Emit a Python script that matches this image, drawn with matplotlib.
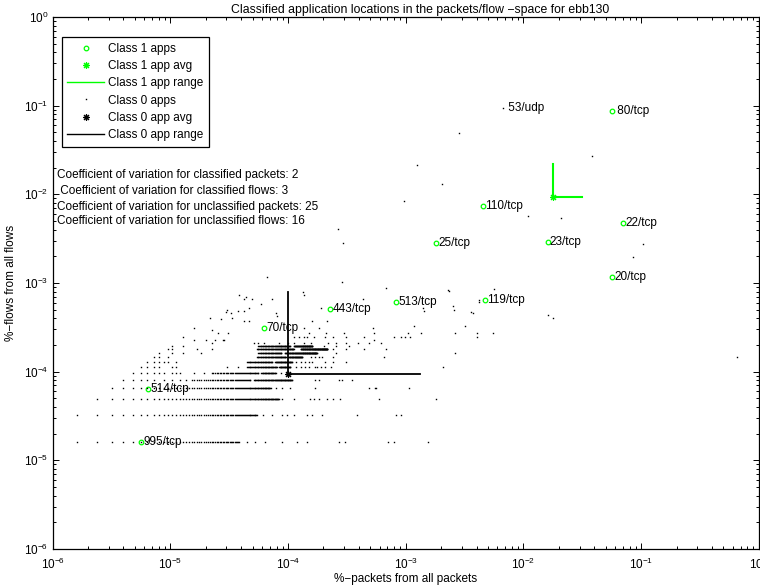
import numpy as np
import matplotlib
matplotlib.use('Agg')
import matplotlib.pyplot as plt
from matplotlib.lines import Line2D
from matplotlib.ticker import LogLocator, LogFormatterSciNotation, NullFormatter

plt.rcParams['font.family'] = ['Liberation Sans', 'DejaVu Sans']
plt.rcParams['mathtext.fontset'] = 'custom'
plt.rcParams['mathtext.rm'] = 'Liberation Sans'
plt.rcParams['mathtext.it'] = 'Liberation Sans:italic'
plt.rcParams['mathtext.bf'] = 'Liberation Sans:bold'
plt.rcParams['mathtext.default'] = 'regular'

GREEN = '#00ff00'
FS = 8.5

# ---- class 1 (classified) applications: % of packets / % of flows ----
c1_names = [' 80/tcp', '110/tcp', '22/tcp', '25/tcp', '23/tcp', '20/tcp',
            '119/tcp', '513/tcp', '443/tcp', '70/tcp', '514/tcp', '995/tcp']
c1_pkts = [0.0566, 0.00454, 0.0706, 0.00182, 0.0161, 0.0569,
           0.00474, 0.000828, 0.000228, 6.25e-5, 6.5e-6, 5.64e-6]
c1_flows = [0.0878, 0.00745, 0.00471, 0.00285, 0.00292, 0.00118,
            0.000643, 0.000615, 0.000506, 0.000308, 6.38e-5, 1.62e-5]
c1_avg = (0.0177, 0.0094)
c1_range_end = (0.0313, 0.022)       # (packets, flows)

# ---- class 0 (unclassified) applications ----
c0_avg = (1.007e-4, 9.42e-5)
c0_range_end = (1.325e-3, 7.98e-4)

PKT_UNIT = 8.0e-7     # % of all packets for a single packet
FLOW_UNIT = 1.62e-5   # % of all flows for a single flow

# apps with few flows sit on rows (flow count); runs are contiguous packet counts
row_flows = [1, 2, 3, 4, 5, 6, 7, 8, 9, 10, 11, 12, 13, 14, 15]
row_runs = [
    [(2, 48)],
    [(2, 68)],
    [(3, 104)],
    [(4, 89)],
    [(19, 60), (64, 135)],
    [(28, 70), (74, 98)],
    [(56, 100), (105, 131)],
    [(56, 92), (97, 135)],
    [(68, 120), (126, 165)],
    [(70, 110), (118, 220)],
    [(68, 140), (160, 270)],
    [(70, 130), (140, 201)],
    [],
    [],
    [],
]
row_extra = [
    [56, 66, 80, 112, 150, 183, 340, 380, 880, 990, 1930],
    [77, 92, 112, 123, 140, 183, 201, 242, 480, 1030, 1130],
    [112, 140, 191, 206, 228, 270, 304, 348, 746, 2240],
    [98, 112, 131, 214, 610, 686, 706, 1330],
    [5, 6, 7, 8, 9, 11, 13, 15, 17, 214, 229, 336, 362, 436],
    [6, 7, 8, 9, 10, 11, 13, 14, 15, 20, 24, 110, 122],
    [7, 8, 9, 10, 13, 14, 38, 47, 145, 160, 175, 190, 214, 222, 240, 259, 288, 2590],
    [8, 9, 10, 11, 12, 14, 145, 160, 175, 190, 201, 259, 304, 388],
    [9, 10, 12, 195, 210, 228, 244, 304, 822],
    [10, 13, 16, 23, 319, 3250],
    [12, 13, 21, 28, 300, 390, 558, 850],
    [13, 16, 252, 319, 414],
    [28, 64, 70, 78, 104, 126, 140, 170, 195, 272, 319, 388, 487, 611, 770],
    [20, 25, 30, 35, 36, 666],
    [16, 140, 154, 170, 182, 208, 260, 304, 388, 558, 988, 1130, 1235, 1370, 5040],
]

# the remaining, more spread out class 0 apps (packet count, flow count)
sc_pkts = [48, 53, 38, 47, 53, 37, 41, 27, 34, 42, 53, 58, 20, 28, 32, 39,
           188, 262, 375, 676, 229, 171, 201, 270, 101, 98, 58, 237, 73, 62, 92, 538,
           171, 166, 363, 83, 850, 55,
           2885, 3150, 4510, 5200, 1746, 655, 1482, 1302, 1690, 3250, 3950, 5070, 6900,
           3550, 47800, 1564, 2550, 1220, 13650, 25900, 129400, 107600, 2910, 7080,
           5270, 3230, 4620, 20400, 22200, 1790, 330, 370, 818000]
sc_flows = [45, 41, 31, 30, 30, 29, 28, 25, 24, 25, 23, 23, 19, 18, 17, 17,
            17, 17, 17, 17, 19, 19, 23, 23, 26, 28, 32, 32, 36, 41, 41, 41,
            45, 49, 64, 73, 54, 43,
            52, 34, 29, 40, 32, 19, 20, 17, 17, 17, 20, 17, 17,
            3000, 1683, 1332, 812, 525, 355, 333, 170, 122, 50, 53,
            38, 31, 28, 27, 25, 30, 254, 176, 9]

dns_pkt, dns_flow = 8360, 5840   # 53/udp, a labelled class 0 app

cv_lines = ['Coefficient of variation for classified packets: 2',
            ' Coefficient of variation for classified flows: 3',
            'Coefficient of variation for unclassified packets: 25',
            'Coefficient of variation for unclassified flows: 16']
cv_y = [0.0165, 0.0109, 0.00726, 0.0050]

# ---- expand the class 0 data ----
c0_k, c0_n = [], []
for n, runs, extra in zip(row_flows, row_runs, row_extra):
    for a, b in runs:
        ks = list(range(a, b + 1))
        c0_k += ks
        c0_n += [n] * len(ks)
    c0_k += extra
    c0_n += [n] * len(extra)
c0_k += sc_pkts + [dns_pkt]
c0_n += sc_flows + [dns_flow]
c0_x = np.array(c0_k) * PKT_UNIT
c0_y = np.array(c0_n) * FLOW_UNIT

# ---- figure ----
fig = plt.figure(figsize=(7.6, 5.86), dpi=100)
ax = fig.add_axes([52.6 / 760, 1 - 549 / 586, 706.2 / 760, 532 / 586])
ax.set_xscale('log')
ax.set_yscale('log')
ax.set_xlim(1e-6, 1)
ax.set_ylim(1e-6, 1)

# class 1
ax.plot(c1_pkts, c1_flows, ls='none', marker='o', ms=3.3, mfc='none',
        mec=GREEN, mew=0.9, zorder=3)
ax.plot([c1_avg[0]], [c1_avg[1]], ls='none', marker=(8, 2, 0), ms=5,
        mec=GREEN, mew=0.8, zorder=4)
ax.plot([c1_avg[0], c1_range_end[0]], [c1_avg[1], c1_avg[1]], color=GREEN, lw=1.5, zorder=4)
ax.plot([c1_avg[0], c1_avg[0]], [c1_avg[1], c1_range_end[1]], color=GREEN, lw=1.5, zorder=4)

# class 0
ax.plot(c0_x, c0_y, ls='none', marker='s', ms=1.0, mew=0, color='black', zorder=5)
ax.plot([c0_avg[0]], [c0_avg[1]], ls='none', marker=(8, 2, 0), ms=5,
        mec='black', mew=0.8, zorder=6)
ax.plot([c0_avg[0], c0_range_end[0]], [c0_avg[1], c0_avg[1]], color='black', lw=1.3, zorder=6)
ax.plot([c0_avg[0], c0_avg[0]], [c0_avg[1], c0_range_end[1]], color='black', lw=1.3, zorder=6)

# app labels
for name, px, fy in zip(c1_names, c1_pkts, c1_flows):
    ax.annotate(name, (px, fy), xytext=(1.5, 0), textcoords='offset points',
                ha='left', va='center', fontsize=FS, zorder=7)
ax.annotate(' 53/udp', (dns_pkt * PKT_UNIT, dns_flow * FLOW_UNIT), xytext=(1.5, 0),
            textcoords='offset points', ha='left', va='center', fontsize=FS, zorder=7)

for s, yv in zip(cv_lines, cv_y):
    ax.text(1.09e-6, yv, s, ha='left', va='center', fontsize=FS, zorder=7)

# axes styling
for sp in ax.spines.values():
    sp.set_linewidth(0.9)
ax.xaxis.set_major_locator(LogLocator(base=10, numticks=20))
ax.yaxis.set_major_locator(LogLocator(base=10, numticks=20))
ax.xaxis.set_minor_locator(LogLocator(base=10, subs=np.arange(2, 10), numticks=20))
ax.yaxis.set_minor_locator(LogLocator(base=10, subs=np.arange(2, 10), numticks=20))
ax.xaxis.set_major_formatter(LogFormatterSciNotation())
ax.yaxis.set_major_formatter(LogFormatterSciNotation())
ax.xaxis.set_minor_formatter(NullFormatter())
ax.yaxis.set_minor_formatter(NullFormatter())
ax.tick_params(which='both', direction='in', top=True, right=True,
               labelsize=FS, width=0.7)
ax.tick_params(which='major', length=4)
ax.tick_params(which='minor', length=2)
ax.tick_params(axis='x', pad=5.5)
ax.tick_params(axis='y', pad=3)

ax.set_title('Classified application locations in the packets/flow \u2212space for ebb130',
             fontsize=8.8, pad=3, x=0.52)
ax.set_xlabel('%\u2212packets from all packets', fontsize=FS, labelpad=1)
ax.set_ylabel('%\u2212flows from all flows', fontsize=FS, labelpad=5)

handles = [
    Line2D([], [], ls='none', marker='o', ms=3.3, mfc='none', mec=GREEN, mew=0.9),
    Line2D([], [], ls='none', marker=(8, 2, 0), ms=5, mec=GREEN, mew=0.8),
    Line2D([], [], color=GREEN, lw=1.0),
    Line2D([], [], ls='none', marker='s', ms=1.0, mew=0, color='black'),
    Line2D([], [], ls='none', marker=(8, 2, 0), ms=5, mec='black', mew=0.8),
    Line2D([], [], color='black', lw=1.0),
]
labels = ['Class 1 apps', 'Class 1 app avg', 'Class 1 app range',
          'Class 0 apps', 'Class 0 app avg', 'Class 0 app range']
leg = ax.legend(handles, labels, loc='upper left', bbox_to_anchor=(0.0129, 0.9618),
                fontsize=FS, frameon=True, fancybox=False, edgecolor='black',
                framealpha=1, handlelength=3.15, handletextpad=0.36, borderpad=0.45,
                labelspacing=0.45, borderaxespad=0)
leg.get_frame().set_linewidth(0.9)
leg.set_zorder(10)

fig.savefig('out.png', dpi=100, facecolor='white')
